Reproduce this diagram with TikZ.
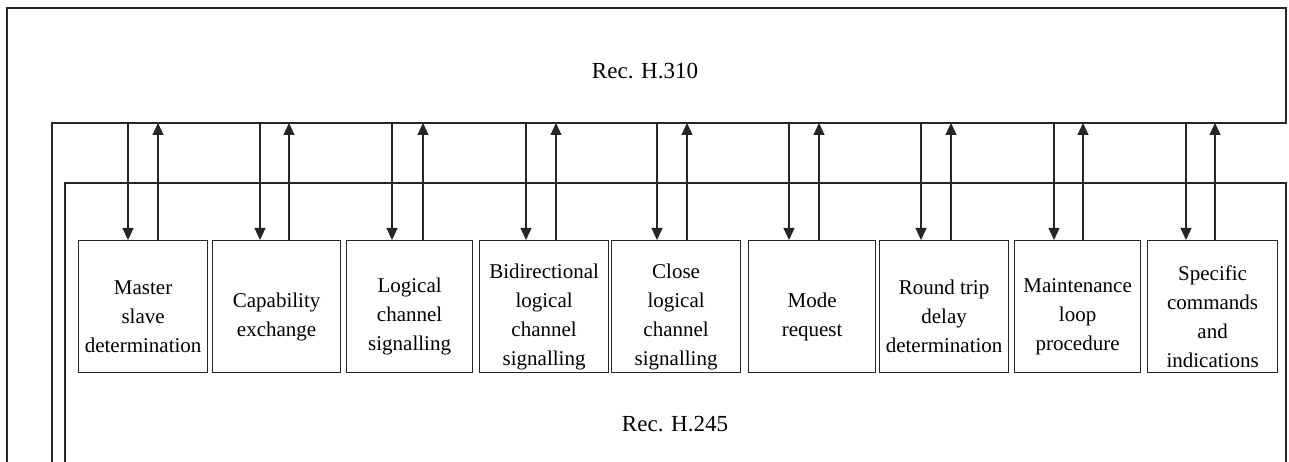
\documentclass[tikz,border=0pt]{standalone}
\usepackage{fontspec}
\setmainfont{Liberation Serif}
\usetikzlibrary{arrows.meta,calc}
\begin{document}
\begin{tikzpicture}[x=1pt,y=-1pt,
  frame/.style={line width=1.2pt,draw=black!85},
  fbox/.style={draw=black!85,line width=1.2pt,anchor=north west,inner sep=0pt},
  ftext/.style={inner sep=0pt,align=center,font=\fontsize{21}{29}\selectfont},
  lab/.style={font=\fontsize{23}{26}\selectfont,inner sep=0pt},
  arr/.style={line width=1.2pt,draw=black!85,-{Triangle[length=12pt,width=11pt]}}]
\useasboundingbox (0,0) rectangle (1289,462);
% frames
\draw[frame] (7,462) -- (7,8) -- (1286,8) -- (1286,123) -- (52,123) -- (52,462);
\draw[frame] (65,462) -- (65,183) -- (1286,183) -- (1286,462);
\node[lab] (h310) at (645,71) {Rec. H.310};
\node[lab] (h245) at (675,424) {Rec. H.245};
% boxes: name / left / right / down x / up x / text
\foreach \n/\l/\r/\dx/\ux/\t in {
  b1/78/207/128/158/{Master\\slave\\determination},
  b2/212/340/260/289/{Capability\\exchange},
  b3/346/472/392/423/{Logical\\channel\\signalling},
  b4/479/608/526/556/{Bidirectional\\logical\\channel\\signalling},
  b5/611/740/657/687/{Close\\logical\\channel\\signalling},
  b6/748/875/789/819/{Mode\\request},
  b7/879/1008/921/951/{Round trip\\delay\\determination},
  b8/1014/1140/1054/1083/{Maintenance\\loop\\procedure},
  b9/1147/1277/1186/1215/{Specific\\commands\\and\\indications}}{
  \node[fbox,minimum width={\r-\l},minimum height=132] (\n) at (\l,240) {};
  \node[ftext] (\n t) at ($(\n.center)+(0,10)$) {\t};
  \coordinate (\n d) at (\dx,123);
  \coordinate (\n u) at (\ux,123);
  \draw[arr] (\n d) -- (\n.north -| \n d);
  \draw[arr] (\n.north -| \n u) -- (\n u);
}
\end{tikzpicture}
\end{document}
